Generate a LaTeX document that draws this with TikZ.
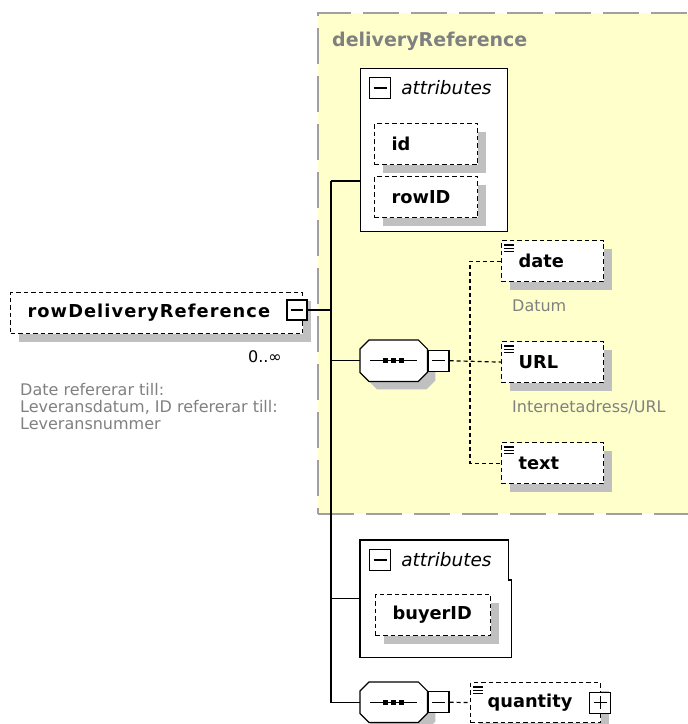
\documentclass[tikz,border=0pt]{standalone}
\usepackage{fontspec}
\setmainfont{DejaVu Sans}
\usetikzlibrary{positioning,shadows}
\definecolor{grpfill}{HTML}{FFFFCC}
\definecolor{grpline}{HTML}{A0A0A0}
\definecolor{notegray}{HTML}{808080}
\definecolor{shadegray}{HTML}{C0C0C0}
\newcommand{\elemfont}{\fontsize{17.8}{20}\selectfont\bfseries}
\newcommand{\titlefont}{\fontsize{19}{22}\selectfont\bfseries}
\newcommand{\notefont}{\fontsize{16}{17}\selectfont}
\newcommand{\attrfont}{\fontsize{18.5}{20}\selectfont\itshape}
% three little lines marking a simple type
\newcommand{\typeicon}[1]{%
  \foreach \k in {0,1,2}
    \draw[line width=1.1pt] ([xshift=3pt, yshift=-5pt-\k*3.3pt]#1.north west) -- +(10pt,0);}
% octagon of a sequence, with its three dots
\newcommand{\seqshape}[1]{%
  \draw[con, fill=white, shade] ([xshift=9pt]#1.north west) -- ([xshift=-9pt]#1.north east)
    -- ([yshift=-9pt]#1.north east) -- ([yshift=9pt]#1.south east)
    -- ([xshift=-9pt]#1.south east) -- ([xshift=9pt]#1.south west)
    -- ([yshift=9pt]#1.south west) -- ([yshift=-9pt]#1.north west) -- cycle;
  \draw[con] ([xshift=10pt]#1.west) -- ([xshift=-10pt]#1.east);
  \foreach \dx in {-8,0,8}
    \fill ([xshift=\dx pt]#1.center) ++(-2.6,-2.6) rectangle ++(5.2,5.2);}

\begin{document}
\begin{tikzpicture}[x=1pt, y=-1pt,
  elem/.style={draw, line width=1.2pt, dash pattern=on 4.5pt off 3pt, fill=white,
    anchor=north west, inner xsep=17pt, inner ysep=0pt, minimum height=41pt,
    align=left, font=\elemfont},
  shade/.style={drop shadow={shadow xshift=#1, shadow yshift=-#1, fill=shadegray, opacity=1}},
  shade/.default=8pt,
  attrbox/.style={draw, line width=1.2pt, fill=white, anchor=north west, inner sep=0pt},
  attrlab/.style={font=\attrfont, inner sep=0pt, anchor=west},
  btn/.style={draw, line width=1.2pt, fill=white, minimum size=20pt, inner sep=0pt},
  minus/.style={btn, path picture={\draw[line width=1.2pt]
    ([xshift=4pt]path picture bounding box.west) -- ([xshift=-4pt]path picture bounding box.east);}},
  plus/.style={btn, path picture={\draw[line width=1.2pt]
    ([xshift=4pt]path picture bounding box.west) -- ([xshift=-4pt]path picture bounding box.east)
    ([yshift=-4pt]path picture bounding box.north) -- ([yshift=4pt]path picture bounding box.south);}},
  seq/.style={anchor=north west, inner sep=0pt, minimum width=67pt, minimum height=41pt},
  note/.style={font=\notefont, text=notegray, inner sep=0pt, align=left},
  con/.style={line width=1.2pt},
  dcon/.style={line width=1.2pt, dash pattern=on 4pt off 3pt}
]
\useasboundingbox[fill=white] (0,0) rectangle (688,724);

% group deliveryReference
\node[draw=grpline, fill=grpfill, line width=2pt, dash pattern=on 36pt off 12pt,
  anchor=north west, minimum width=390pt, minimum height=501pt, inner sep=0pt] (grp) at (317,12) {};
\node[font=\titlefont, text=notegray, anchor=west, inner sep=0pt] (grpTitle) at (332,41) {deliveryReference};

% root element
\node[elem, shade, text width=258pt] (root) at (10,292)
  {\addfontfeature{LetterSpace=6}rowDeliveryReference};
\node[minus] (rootBtn) at (297,310) {};
\node[anchor=east, font=\notefont, inner sep=0pt] (rootOcc) at (282,357) {0..∞};
\node[note, anchor=north west] (rootNote) at (20,383)
  {Date refererar till:\\Leveransdatum, ID refererar till:\\Leveransnummer};

% attributes of the group
\node[attrbox, minimum width=147pt, minimum height=163pt] (attrA) at (360,68) {};
\node[minus, minimum size=21pt] (attrABtn) at (380,88) {};
\node[attrlab, right=10pt of attrABtn] (attrALab) {attributes};
\node[elem, shade, text width=69pt] (idN) at (374,123) {id};
\node[elem, shade, text width=69pt] (rowidN) at (374,176) {rowID};

% sequence in the group
\node[seq] (seqA) at (360,340) {};
\seqshape{seqA}
\node[minus, minimum size=21pt, anchor=west] (seqABtn) at (seqA.east) {};

\node[elem, shade, text width=68pt] (dateN) at (501,240) {date};
\typeicon{dateN}
\node[note, anchor=west] (dateNote) at ([xshift=11pt, yshift=-24pt]dateN.south west) {Datum};
\node[elem, shade, text width=68pt] (urlN) at (501,341) {URL};
\typeicon{urlN}
\node[note, anchor=west] (urlNote) at ([xshift=11pt, yshift=-24pt]urlN.south west) {Internetadress/URL};
\node[elem, shade, text width=68pt] (textN) at (501,442) {text};
\typeicon{textN}

% attributes below the group
\node[attrbox, draw=none, minimum width=150pt, minimum height=116pt] (attrB) at (360,540) {};
\draw[con] (attrB.south west) |- ([xshift=-3pt]attrB.north east)
  -- ([xshift=-3pt, yshift=-40pt]attrB.north east) -- ([yshift=-40pt]attrB.north east)
  -- (attrB.south east) -- cycle;
\node[minus, minimum size=21pt] (attrBBtn) at (380,560) {};
\node[attrlab, right=10pt of attrBBtn] (attrBLab) {attributes};
\node[elem, shade, text width=81pt] (buyerN) at (375,594) {buyerID};

% second sequence
\node[seq, minimum height=40pt] (seqB) at (360,682) {};
\seqshape{seqB}
\node[minus, minimum size=21pt, anchor=west] (seqBBtn) at (seqB.east) {};
\node[elem, shade, text width=96pt, minimum height=40pt] (qtyN) at (470,682) {quantity};
\typeicon{qtyN}
\node[plus, minimum size=21pt] (qtyBtn) at ([xshift=-1pt]qtyN.east) {};

% connectors
\coordinate (tTop) at (331,181);
\draw[con] (tTop) -- (tTop |- seqB.west) -- (seqB.west);
\draw[con] (tTop) -- (tTop -| attrA.west);
\draw[con] (rootBtn.east) -- (rootBtn.east -| tTop);
\draw[con] (seqA.west -| tTop) -- (seqA.west);
\draw[con] (attrB.west -| tTop) -- (attrB.west);
\draw[dcon] (seqABtn.east) -- (urlN.west);
\draw[dcon] (dateN.west) -| (seqABtn.east -| 470,0) |- (textN.west);
\draw[dcon] (seqBBtn.east) -- (qtyN.west);
\end{tikzpicture}
\end{document}
